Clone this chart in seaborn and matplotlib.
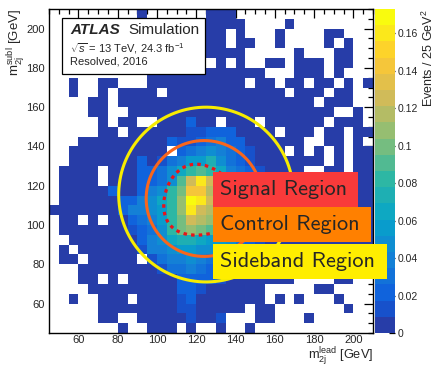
import numpy as np
import pandas as pd
import seaborn as sns
import matplotlib.pyplot as plt
from matplotlib.colors import LinearSegmentedColormap, ListedColormap
from matplotlib.patches import Rectangle
from matplotlib.ticker import MultipleLocator, FixedLocator

sns.set_style("white")
plt.rcParams['font.family'] = ['Liberation Sans', 'DejaVu Sans']
plt.rcParams['mathtext.fontset'] = 'custom'
plt.rcParams['mathtext.rm'] = 'Liberation Sans'
plt.rcParams['mathtext.it'] = 'Liberation Sans:italic'
plt.rcParams['mathtext.bf'] = 'Liberation Sans:bold'

# bin edges (GeV), 5 GeV bins on both axes
m_lead_edges = [45, 50, 55, 60, 65, 70, 75, 80, 85, 90, 95, 100, 105, 110, 115, 120, 125,
                130, 135, 140, 145, 150, 155, 160, 165, 170, 175, 180, 185, 190, 195, 200, 205, 210]
m_subl_edges = m_lead_edges

# colour level of every bin, rows from m_subl=210 (top) down to 45
# '.' = empty bin, '0'..'j' = palette level 0..19
level_chars = "0123456789abcdefghij"
grid_rows = [
    ".........0......000..............",
    "..000000000000000000....0........",
    "..0000000000000000.0...0....00...",
    "..0000000000000000.00..0....0.0..",
    "..000000000000000000.....0...00..",
    "..00000000000000.0.0..00.000.00..",
    "..........000000000000...000.0...",
    "..0..00...0000000000.00.00.00.0.0",
    "..0..0.0000.000000000000.000.00..",
    "....00.00000000000000000000.000..",
    "....00..000000000000000000000..0.",
    ".....0.00..000200.000.000000.000.",
    ".....00.000000112220000.000.00.00",
    "...00000000021123422000000..00.0.",
    "..0000000000.23454321000.0.0.0.00",
    "..00000002013466853210000000.0.00",
    ".0000.000223579a9743210000..00.00",
    ".0000.0002235aeieda74210000000000",
    ".000002002459bggdca85310000000000",
    ".000000224579cjiedb85310000000000",
    "0000000244569ciedca74210000000000",
    ".00.0.0023469bedcb964210000000000",
    ".000000012359bcba9753210000000000",
    "..0000000245788766532100000000000",
    ".0.000000144566554321000000000000",
    ".00.00000.13445433210000000000000",
    "...000000001334322100000000000000",
    "...00.0.00000222210000000....00....",
    "....000000000221000000.....00....",
    "..0..000.0000120000000.0.0...0...",
    ".....000000001100000.00.......0..",
    ".....00..000001001...00...0......",
    ".......0..000.0..0..0............",
]

n_levels = 20
z_max = 0.173

cbar_ticks = [0, 0.02, 0.04, 0.06, 0.08, 0.1, 0.12, 0.14, 0.16]
x_ticks = [60, 80, 100, 120, 140, 160, 180, 200]
y_ticks = [60, 80, 100, 120, 140, 160, 180, 200]

# region definitions (GeV)
sr_centre = (120, 110)
sr_cut = 1.6
cr_centre = (124, 113.5)
cr_radius = 29.5
sb_centre = (125, 115.5)
sb_radius = 44.5

# long-form table of the filled bins
m_lead_centres = [(a + b) / 2 for a, b in zip(m_lead_edges[:-1], m_lead_edges[1:])]
m_subl_centres = [(a + b) / 2 for a, b in zip(m_subl_edges[:-1], m_subl_edges[1:])][::-1]
records = []
for r, row in enumerate(grid_rows):
    for c, ch in enumerate(row[:33]):
        if ch == '.':
            continue
        level = level_chars.index(ch)
        records.append({'m_lead': m_lead_centres[c], 'm_subl': m_subl_centres[r],
                        'events': (level + 0.5) * z_max / n_levels})
df = pd.DataFrame(records)

# ROOT kBird palette, 20 contour levels
bird_stops = [0.0, 0.125, 0.25, 0.375, 0.5, 0.625, 0.75, 0.875, 1.0]
bird_r = [0.2082, 0.0592, 0.0780, 0.0232, 0.1802, 0.5301, 0.8186, 0.9956, 0.9764]
bird_g = [0.1664, 0.3599, 0.5041, 0.6419, 0.7178, 0.7492, 0.7328, 0.7862, 0.9832]
bird_b = [0.5293, 0.8684, 0.8385, 0.7914, 0.6425, 0.4662, 0.3499, 0.1968, 0.0539]
bird = LinearSegmentedColormap.from_list(
    'bird', list(zip(bird_stops, zip(bird_r, bird_g, bird_b))))
cmap = ListedColormap([bird(min((i + 0.99) / n_levels, 1.0)) for i in range(n_levels)])

fig = plt.figure(figsize=(4.35, 3.66), dpi=100)
ax = fig.add_axes([0.1126, 0.0902, 0.7448, 0.8852])
cax = fig.add_axes([0.862, 0.0902, 0.046, 0.8852])

sns.histplot(data=df, x='m_lead', y='m_subl', weights='events', bins=m_lead_edges,
             cmap=cmap, vmin=0, vmax=z_max, cbar=True, cbar_ax=cax, ax=ax)

# region contours
t = np.linspace(0, 2 * np.pi, 400)
ax.plot(sb_centre[0] + sb_radius * np.cos(t), sb_centre[1] + sb_radius * np.sin(t),
        color='#f7ec00', lw=2.2, zorder=3)
ax.plot(cr_centre[0] + cr_radius * np.cos(t), cr_centre[1] + cr_radius * np.sin(t),
        color='#f9661c', lw=2.2, zorder=3)
ax.plot(sr_centre[0] / (1 - 0.1 * sr_cut * np.cos(t)), sr_centre[1] / (1 - 0.1 * sr_cut * np.sin(t)),
        color='#e8141a', lw=2.3, ls=(0, (1.1, 1.3)), zorder=3)

ax.set_xlim(45, 210)
ax.set_ylim(45, 210)
ax.set_xlabel('')
ax.set_ylabel('')
ax.xaxis.set_major_locator(FixedLocator(x_ticks))
ax.yaxis.set_major_locator(FixedLocator(y_ticks))
ax.xaxis.set_minor_locator(MultipleLocator(5))
ax.yaxis.set_minor_locator(MultipleLocator(5))
ax.tick_params(which='both', direction='in', top=True, right=True, color='black', width=0.9)
ax.tick_params(which='major', length=6.5, labelsize=8)
ax.tick_params(which='minor', length=3.3)
ax.tick_params(axis='x', pad=1.5)
ax.tick_params(axis='y', pad=3)
for s in ax.spines.values():
    s.set_color('black')
    s.set_linewidth(1.0)
    s.set_zorder(4)

cax.yaxis.set_major_locator(FixedLocator(cbar_ticks))
cax.yaxis.set_minor_locator(FixedLocator([]))
cax.set_yticklabels([f'{v:g}' for v in cbar_ticks])
cax.tick_params(axis='y', direction='in', length=4.5, width=0.9, labelsize=7.5, pad=2,
                color='black', right=True, left=False)
cax.set_ylim(0, z_max)
for s in cax.spines.values():
    s.set_visible(False)

fig.text(0.985, 0.975, 'Events / 25 GeV$^2$', rotation=90, ha='center', va='top', fontsize=9)
fig.text(0.8575, 0.021, r'$\mathrm{m}_{\mathrm{2j}}^{\mathrm{lead}}$ [GeV]', ha='right', va='baseline', fontsize=9.2)
fig.text(0.036, 0.975, r'$\mathrm{m}_{\mathrm{2j}}^{\mathrm{subl}}$ [GeV]', rotation=90, ha='center', va='top', fontsize=9.5)

# ATLAS label box
fig.add_artist(Rectangle((0.1432, 0.7978), 0.328, 0.1522, transform=fig.transFigure,
                         facecolor='white', edgecolor='black', lw=0.9, zorder=5))
fig.text(0.161, 0.907, 'ATLAS', fontsize=11, fontweight='bold', fontstyle='italic', zorder=6)
fig.text(0.294, 0.907, 'Simulation', fontsize=11, zorder=6)
fig.text(0.161, 0.868, r'$\sqrt{s}$ = 13 TeV, 24.3 fb$^{-1}$', fontsize=8, va='center', zorder=6)
fig.text(0.161, 0.8314, 'Resolved, 2016', fontsize=8, va='center', zorder=6)

# region legend boxes
regions = [('Signal Region', '#f93a3a', 0.4352, 0.3333),
           ('Control Region', '#ff8000', 0.3388, 0.3632),
           ('Sideband Region', '#ffee00', 0.2377, 0.4000)]
for name, col, y0, w in regions:
    fig.add_artist(Rectangle((0.4897, y0), w, 0.0956, transform=fig.transFigure,
                             facecolor=col, edgecolor='none', zorder=5))
    fig.text(0.5057, y0 + 0.0478, name, fontsize=16, family='cmss10', va='center', zorder=6)

plt.savefig('out.png', dpi=100)
